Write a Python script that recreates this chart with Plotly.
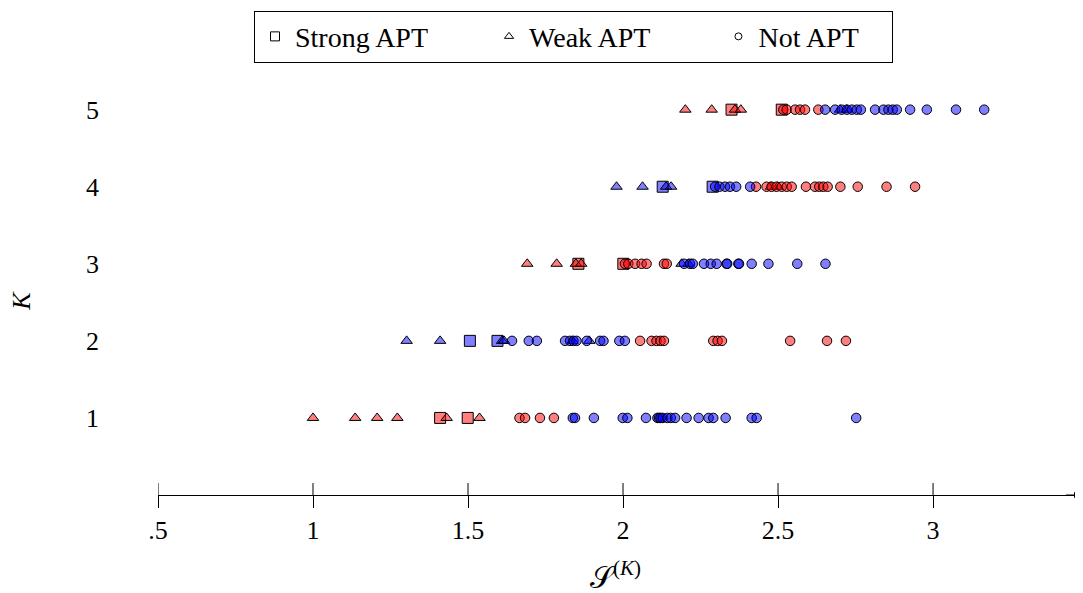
import plotly.graph_objects as go

# ---- data (x = S^(K), keyed by K) ----
K_LEVELS = [1, 2, 3, 4, 5]

red_strong = {
    1: [1.41, 1.499],
    3: [1.856, 2.001],
    5: [2.35, 2.512],
}
red_weak = {
    1: [1.0, 1.136, 1.207, 1.272, 1.431, 1.537],
    3: [1.691, 1.786, 1.848, 1.865],
    4: [2.477, 2.499],
    5: [2.201, 2.286, 2.361, 2.38],
}
red_not = {
    1: [1.666, 1.684, 1.732, 1.777],
    2: [2.055, 2.092, 2.108, 2.121, 2.132, 2.291, 2.305, 2.319, 2.539, 2.658, 2.719],
    3: [2.006, 2.017, 2.039, 2.06, 2.076, 2.132, 2.141],
    4: [2.429, 2.463, 2.479, 2.495, 2.512, 2.528, 2.544, 2.59, 2.619, 2.633,
        2.646, 2.66, 2.701, 2.757, 2.85, 2.942],
    5: [2.517, 2.528, 2.555, 2.571, 2.587, 2.63],
}
blue_strong = {
    2: [1.506, 1.595],
    4: [2.128, 2.289],
}
blue_weak = {
    2: [1.302, 1.41, 1.61, 1.616, 1.837, 1.891],
    3: [2.189, 2.211],
    4: [1.979, 2.063, 2.139, 2.155],
    5: [2.7, 2.722],
}
blue_not = {
    1: [1.838, 1.845, 1.906, 1.999, 2.014, 2.074, 2.111, 2.116, 2.121, 2.128,
        2.143, 2.154, 2.168, 2.205, 2.244, 2.276, 2.291, 2.331, 2.415, 2.431, 2.752],
    2: [1.642, 1.696, 1.722, 1.813, 1.829, 1.84, 1.85, 1.883, 1.926, 1.937,
        1.988, 2.006],
    3: [2.197, 2.216, 2.225, 2.261, 2.283, 2.302, 2.334, 2.336, 2.372, 2.374,
        2.415, 2.469, 2.562, 2.653],
    4: [2.297, 2.311, 2.329, 2.345, 2.365, 2.41],
    5: [2.652, 2.684, 2.705, 2.722, 2.738, 2.754, 2.767, 2.813, 2.84, 2.856,
        2.87, 2.883, 2.926, 2.98, 3.074, 3.165],
}

x_tickvals = [0.5, 1, 1.5, 2, 2.5, 3]
x_ticktext = [".5", "1", "1.5", "2", "2.5", "3"]
legend_names = ["Strong APT", "Weak APT", "Not APT"]
legend_pad = [8, 9, 4]   # trailing non-breaking spaces to space the entries

RED = "rgba(255,0,0,0.5)"
BLUE = "rgba(0,0,255,0.5)"
FONT = "Liberation Serif"


def flatten(d):
    xs, ys = [], []
    for k in K_LEVELS:
        for v in d.get(k, []):
            xs.append(v)
            ys.append(k)
    return xs, ys


fig = go.Figure()

series = [
    (red_strong, RED, "square", 11),
    (blue_strong, BLUE, "square", 11),
    (red_weak, RED, "triangle-up", 10),
    (blue_weak, BLUE, "triangle-up", 10),
    (red_not, RED, "circle", 9.5),
    (blue_not, BLUE, "circle", 9.5),
]
for d, col, sym, sz in series:
    xs, ys = flatten(d)
    fig.add_trace(go.Scatter(
        x=xs, y=ys, mode="markers", showlegend=False,
        marker=dict(symbol=sym, size=sz, color=col,
                    line=dict(color="black", width=1)),
        hoverinfo="x+y",
    ))

# legend entries (white symbols)
for name, pad, sym, sz in zip(legend_names, legend_pad,
                              ["square", "triangle-up", "circle"], [9, 8, 7]):
    fig.add_trace(go.Scatter(
        x=[None], y=[None], mode="markers", name=name + "\u00a0" * pad,
        marker=dict(symbol=sym, size=sz, color="white",
                    line=dict(color="black", width=1)),
    ))

X_MIN, X_MAX = 0.5, 3.474
Y_MAX = 5.8
TICK_HALF = 12 / 449 * Y_MAX   # 12 px expressed in y units

# upper halves of the x ticks (ticks cross the axis line)
for tv in x_tickvals:
    fig.add_shape(type="line", xref="x", yref="y", x0=tv, x1=tv, y0=0, y1=TICK_HALF,
                  line=dict(color="black", width=1))

fig.update_layout(
    width=1075, height=585,
    margin=dict(l=150, r=3, t=38, b=98),
    paper_bgcolor="white", plot_bgcolor="white",
    font=dict(family=FONT, size=26, color="black"),
    xaxis=dict(
        range=[X_MIN, X_MAX], showgrid=False, zeroline=False,
        showline=True, linecolor="black", linewidth=1,
        ticks="outside", ticklen=12, tickwidth=1, tickcolor="black",
        tickvals=x_tickvals, ticktext=x_ticktext,
        ticklabelstandoff=0,
        tickfont=dict(family=FONT, size=26),
    ),
    yaxis=dict(
        range=[0, Y_MAX], showgrid=False, zeroline=False, showline=False,
        tickvals=K_LEVELS, ticktext=[str(k) for k in K_LEVELS],
        ticks="", ticklabelstandoff=58,
        tickfont=dict(family=FONT, size=26),
    ),
    legend=dict(
        orientation="h", x=(246 - 150) / 922, xanchor="left",
        y=1 + 37.5 / 449, yanchor="top",
        bordercolor="black", borderwidth=1, bgcolor="white",
        font=dict(family=FONT, size=28),
        itemclick=False, itemdoubleclick=False,
    ),
    showlegend=True,
)

# x-axis title
fig.add_annotation(
    text="𝒮<sup>(<i>K</i>)</sup>", xref="paper", yref="paper",
    x=(615 - 158) / 922, y=-(575 - 495) / 449, xanchor="center", yanchor="middle",
    showarrow=False, font=dict(family=FONT, size=30),
)
# y-axis title
fig.add_annotation(
    text="<i>K</i>", xref="paper", yref="paper",
    x=(22 - 158) / 922, y=(495 - 300) / 449, xanchor="center", yanchor="middle",
    textangle=-90, showarrow=False, font=dict(family=FONT, size=26),
)
# arrowhead at the end of the x axis
fig.add_annotation(
    x=X_MAX, y=0, ax=X_MAX - 0.05, ay=0, xref="x", yref="y", axref="x", ayref="y",
    showarrow=True, arrowhead=2, arrowsize=1.2, arrowwidth=1, arrowcolor="black",
    text="",
)

fig.write_html("out.html")
